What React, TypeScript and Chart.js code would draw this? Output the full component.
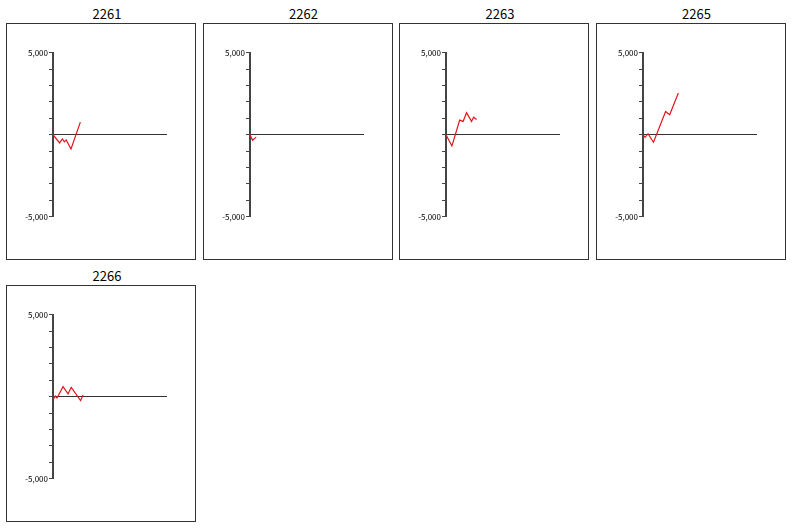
import React, { useEffect, useRef } from "react";
import { Chart, registerables } from "chart.js";

Chart.register(...registerables);

const panelTitles = ["2261", "2262", "2263", "2265", "2266"];

const x2261 = [0, 2.9, 4.1, 5.0, 5.8, 7.9, 12.0];
const y2261 = [0, -500, -260, -440, -320, -870, 770];

const x2262 = [0, 1.1, 2.7];
const y2262 = [0, -340, -150];

const x2263 = [0, 2.6, 6.0, 7.5, 9.0, 11.2, 12.1, 13.4];
const y2263 = [0, -690, 890, 810, 1340, 810, 1070, 930];

const x2265 = [0.3, 0.9, 2.2, 4.6, 9.9, 11.7, 15.5];
const y2265 = [-60, -160, 60, -460, 1420, 1220, 2540];

const x2266 = [0.3, 1.0, 1.75, 4.4, 6.6, 8.0, 12.1, 13.2];
const y2266 = [-120, 40, -80, 610, 180, 570, -240, 100];

const panelX = [x2261, x2262, x2263, x2265, x2266];
const panelY = [y2261, y2262, y2263, y2265, y2266];

const xMin = 0;
const xMax = 50;
const yMin = -5000;
const yMax = 5000;
const yStep = 1000;

const FONT = "'Noto Sans CJK JP', 'Noto Sans', sans-serif";

const BOX_W = 190;
const BOX_H = 237;

function Panel({ idx, left, top }: { idx: number; left: number; top: number }) {
  const ref = useRef<HTMLCanvasElement | null>(null);
  useEffect(() => {
    if (!ref.current) return;
    const xs = panelX[idx];
    const ys = panelY[idx];
    const chart = new Chart(ref.current, {
      type: "line",
      data: {
        datasets: [
          {
            data: xs.map((x, i) => ({ x, y: ys[i] })),
            borderColor: "#e3141c",
            borderWidth: 1.2,
            pointRadius: 0,
            tension: 0,
            fill: false,
          },
        ],
      },
      options: {
        animation: false,
        responsive: false,
        devicePixelRatio: 1,
        layout: { padding: { left: 0, top: 28.7, right: 28, bottom: 42.3 } },
        plugins: {
          legend: { display: false },
          tooltip: { enabled: false },
          title: { display: false },
        },
        scales: {
          x: {
            type: "linear",
            min: xMin,
            max: xMax,
            display: false,
          },
          y: {
            type: "linear",
            min: yMin,
            max: yMax,
            afterFit: (s: any) => {
              s.width = 46;
            },
            ticks: {
              stepSize: yStep,
              autoSkip: false,
              padding: 1,
              color: "#000",
              font: { size: 8, family: FONT },
              callback: (v: any) => {
                if (v === yMax) return "5,000";
                if (v === yMin) return "-5,000";
                return "";
              },
            },
            grid: {
              color: (ctx: any) =>
                ctx.tick && ctx.tick.value === 0 ? "#333" : "rgba(0,0,0,0)",
              lineWidth: 1,
              tickColor: "#444",
              tickLength: 4,
              drawOnChartArea: true,
            },
            border: { display: true, color: "#444", width: 2 },
          },
        },
      },
    });
    return () => chart.destroy();
  }, [idx]);

  return (
    <>
      <div
        style={{
          position: "absolute",
          left: left + 6,
          top: top - 17.5,
          width: BOX_W,
          textAlign: "center",
          fontFamily: FONT,
          fontSize: 13,
          lineHeight: "16px",
          color: "#000",
        }}
      >
        {panelTitles[idx]}
      </div>
      <div
        style={{
          position: "absolute",
          left,
          top,
          width: BOX_W - 2,
          height: BOX_H - 2,
          border: "1px solid #333",
          background: "#fff",
        }}
      >
        <canvas
          ref={ref}
          width={BOX_W - 2}
          height={BOX_H - 2}
          style={{ display: "block", width: BOX_W - 2, height: BOX_H - 2 }}
        />
      </div>
    </>
  );
}

export default function App() {
  const positions = [
    { left: 6, top: 23 },
    { left: 202.5, top: 23 },
    { left: 399, top: 23 },
    { left: 595.5, top: 23 },
    { left: 6, top: 285 },
  ];
  return (
    <div
      style={{
        position: "absolute",
        left: 0,
        top: 0,
        width: 793,
        height: 531,
        background: "#fff",
      }}
    >
      {positions.map((p, i) => (
        <Panel key={i} idx={i} left={p.left} top={p.top} />
      ))}
    </div>
  );
}
